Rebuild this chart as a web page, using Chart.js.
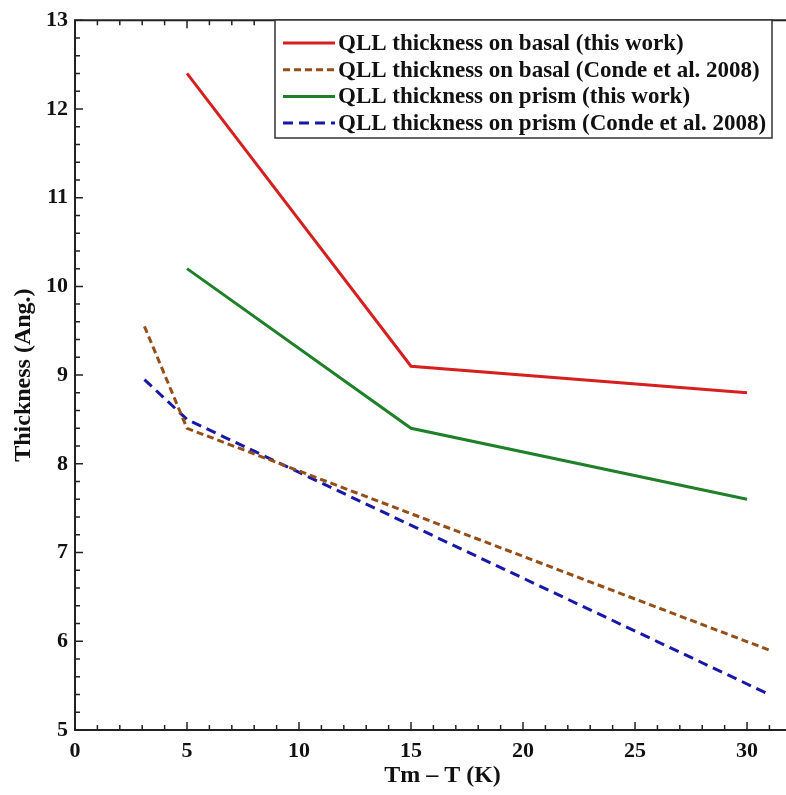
<!DOCTYPE html>
<html>
<head>
<meta charset="utf-8">
<script src="https://cdn.jsdelivr.net/npm/chart.js@4.4.1/dist/chart.umd.min.js"></script>
<style>
  html, body { margin: 0; padding: 0; background: #fff; }
  #c { display: block; }
</style>
</head>
<body>
<canvas id="c" width="786" height="795"></canvas>
<script>
// data
const basalThis   = [{x: 5, y: 12.4}, {x: 15, y: 9.1}, {x: 30, y: 8.8}];
const basalConde  = [{x: 3.1, y: 9.55}, {x: 5, y: 8.4}, {x: 31, y: 5.9}];
const prismThis   = [{x: 5, y: 10.2}, {x: 15, y: 8.4}, {x: 30, y: 7.6}];
const prismConde  = [{x: 3.1, y: 8.95}, {x: 5, y: 8.5}, {x: 31, y: 5.4}];

const seriesLabels = [
  "QLL thickness on basal (this work)",
  "QLL thickness on basal (Conde et al. 2008)",
  "QLL thickness on prism (this work)",
  "QLL thickness on prism (Conde et al. 2008)",
];

const xMajor = [0, 5, 10, 15, 20, 25, 30];
const yMajor = [5, 6, 7, 8, 9, 10, 11, 12, 13];

const SERIF = "'Liberation Serif', 'DejaVu Serif', serif";

// axis frame + inward ticks (left, bottom, top)
const framePlugin = {
  id: "frame",
  afterDraw(chart) {
    const { ctx, chartArea: a, scales } = chart;
    const xs = scales.x, ys = scales.y;
    ctx.save();
    ctx.strokeStyle = "#222";
    ctx.lineWidth = 2;
    ctx.beginPath();
    ctx.moveTo(a.right, a.top); ctx.lineTo(a.left, a.top);
    ctx.lineTo(a.left, a.bottom); ctx.lineTo(a.right, a.bottom);
    ctx.stroke();
    ctx.lineWidth = 1.5;
    ctx.beginPath();
    for (let v = 0; v <= xs.max; v += 1) {
      const px = xs.getPixelForValue(v);
      const len = v % 5 === 0 ? 8 : 5;
      ctx.moveTo(px, a.bottom); ctx.lineTo(px, a.bottom - len);
      ctx.moveTo(px, a.top); ctx.lineTo(px, a.top + len);
    }
    for (let i = 0; i <= 40; i++) {
      const v = 5 + i * 0.2;
      const py = ys.getPixelForValue(v);
      const len = i % 5 === 0 ? 8 : 5;
      ctx.moveTo(a.left, py); ctx.lineTo(a.left + len, py);
    }
    ctx.stroke();
    ctx.restore();
  }
};

// boxed legend in upper right corner
const legendPlugin = {
  id: "boxLegend",
  afterDraw(chart) {
    const { ctx } = chart;
    const bx = 275, by = 20, bw = 497, bh = 118;
    ctx.save();
    ctx.fillStyle = "#fff";
    ctx.fillRect(bx, by, bw, bh);
    ctx.strokeStyle = "#333";
    ctx.lineWidth = 1.5;
    ctx.strokeRect(bx, by, bw, bh);
    ctx.font = "bold 23px " + SERIF;
    ctx.textBaseline = "middle";
    chart.data.datasets.forEach((ds, i) => {
      const y = by + 23 + i * 26.7;
      ctx.strokeStyle = ds.borderColor;
      ctx.lineWidth = 3;
      ctx.setLineDash(ds.borderDash || []);
      ctx.beginPath();
      ctx.moveTo(bx + 8, y); ctx.lineTo(bx + 60, y);
      ctx.stroke();
      ctx.setLineDash([]);
      ctx.fillStyle = "#111";
      ctx.fillText(ds.label, bx + 63, y + 1);
    });
    ctx.restore();
  }
};

const mk = (label, data, color, dash) => ({
  label, data,
  borderColor: color,
  backgroundColor: color,
  borderWidth: 3,
  borderDash: dash,
  pointRadius: 0,
  fill: false,
  tension: 0,
});

new Chart(document.getElementById("c").getContext("2d"), {
  type: "line",
  data: {
    datasets: [
      mk(seriesLabels[0], basalThis, "rgb(214,32,32)", []),
      mk(seriesLabels[1], basalConde, "rgb(150,78,24)", [7, 4]),
      mk(seriesLabels[2], prismThis, "rgb(30,128,40)", []),
      mk(seriesLabels[3], prismConde, "rgb(24,24,168)", [10, 6]),
    ],
  },
  options: {
    responsive: false,
    animation: false,
    layout: { padding: { top: 13, right: 0, left: 0, bottom: 0 } },
    plugins: { legend: { display: false }, tooltip: { enabled: false } },
    scales: {
      x: {
        type: "linear",
        min: 0, max: 31.74,
        afterBuildTicks: s => { s.ticks = xMajor.map(v => ({ value: v })); },
        afterFit: s => { s.height = 65; },
        grid: { display: false, drawTicks: false },
        border: { display: false },
        ticks: {
          color: "#111", padding: 8,
          font: { family: SERIF, size: 22, weight: "bold" },
          maxRotation: 0,
        },
        title: {
          display: true, text: "\u2003Tm \u2013 T (K)", color: "#111",
          font: { family: SERIF, size: 24, weight: "bold" },
          padding: { top: 4, bottom: 5 },
        },
      },
      y: {
        type: "linear",
        min: 5, max: 13,
        afterBuildTicks: s => { s.ticks = yMajor.map(v => ({ value: v })); },
        afterFit: s => { s.width = 75; },
        grid: { display: false, drawTicks: false },
        border: { display: false },
        ticks: {
          color: "#111", padding: 7,
          font: { family: SERIF, size: 22, weight: "bold" },
        },
        title: {
          display: true, text: "Thickness (Ang.)", color: "#111",
          font: { family: SERIF, size: 24, weight: "bold" },
          padding: { top: 9, bottom: 6 },
        },
      },
    },
  },
  plugins: [framePlugin, legendPlugin],
});
</script>
</body>
</html>
